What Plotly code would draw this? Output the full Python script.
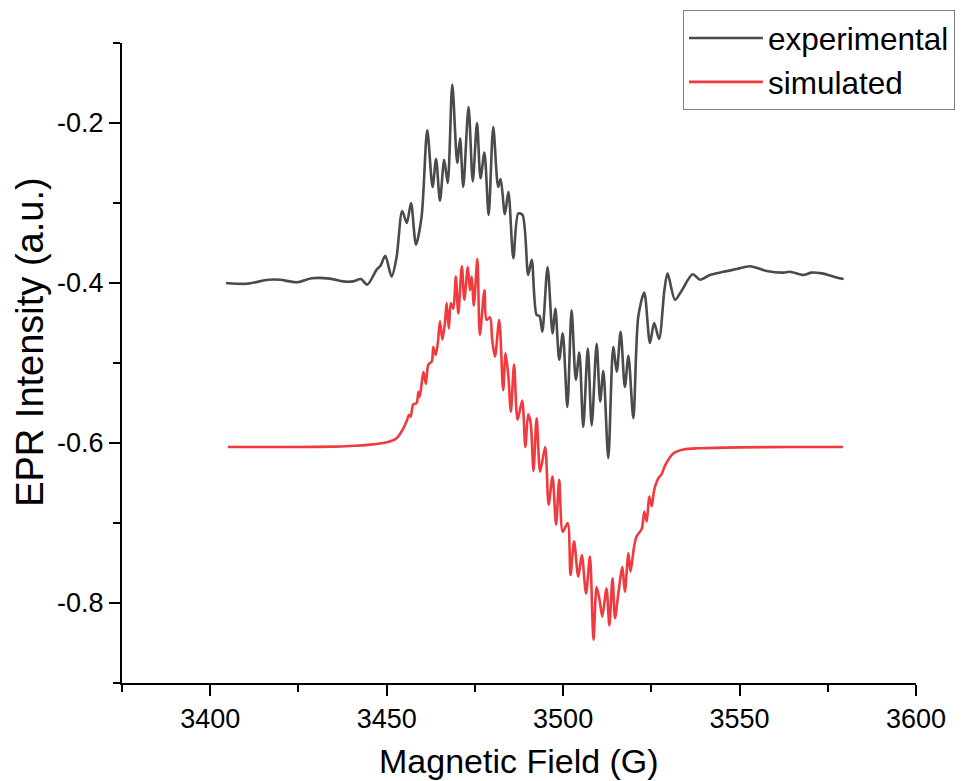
import plotly.graph_objects as go

# Experimental EPR spectrum (field in G, intensity in a.u.)
field_exp = [
    3404.5, 3410.3, 3416.5, 3419.8, 3424.5, 3428.8, 3433.9, 3437.6, 3440.5, 3442.7,
    3444.5, 3447.2, 3448.3, 3449.6, 3451.4, 3452.8, 3454.4, 3455.7, 3456.9, 3458.3,
    3459.9, 3461.5, 3463.0, 3464.0, 3465.1, 3466.3, 3467.3, 3468.6, 3470.0, 3470.8,
    3471.7, 3473.2, 3474.4, 3475.6, 3476.6, 3477.7, 3478.9, 3480.2, 3481.6, 3482.3,
    3483.5, 3484.5, 3485.9, 3487.3, 3488.5, 3490.1, 3491.1, 3492.5, 3493.3, 3494.1,
    3495.6, 3497.0, 3497.8, 3498.9, 3499.9, 3501.2, 3502.4, 3503.6, 3504.6, 3505.7,
    3507.0, 3508.1, 3509.5, 3510.5, 3511.4, 3512.8, 3514.2, 3515.2, 3516.3, 3517.5,
    3518.5, 3519.9, 3521.3, 3523.0, 3524.6, 3525.8, 3527.2, 3528.7, 3529.6, 3531.7,
    3533.4, 3536.7, 3538.8, 3541.6, 3545.4, 3549.2, 3553.0, 3557.7, 3562.4, 3564.3,
    3568.1, 3570.4, 3573.3, 3577.5, 3579.5,
]
int_exp = [
    -0.400, -0.401, -0.396, -0.396, -0.399, -0.394, -0.3945, -0.398, -0.398, -0.395,
    -0.402, -0.383, -0.378, -0.366, -0.392, -0.368, -0.310, -0.325, -0.300, -0.352,
    -0.317, -0.209, -0.280, -0.245, -0.297, -0.246, -0.275, -0.152, -0.250, -0.219,
    -0.280, -0.180, -0.273, -0.200, -0.269, -0.237, -0.315, -0.205, -0.280, -0.270,
    -0.314, -0.286, -0.369, -0.313, -0.315, -0.390, -0.371, -0.440, -0.441, -0.461,
    -0.380, -0.463, -0.432, -0.496, -0.463, -0.555, -0.434, -0.521, -0.487, -0.580,
    -0.482, -0.578, -0.476, -0.548, -0.510, -0.619, -0.480, -0.511, -0.461, -0.530,
    -0.491, -0.569, -0.442, -0.412, -0.475, -0.450, -0.470, -0.409, -0.388, -0.421,
    -0.411, -0.389, -0.396, -0.390, -0.386, -0.3825, -0.379, -0.385, -0.387, -0.386,
    -0.390, -0.387, -0.388, -0.393, -0.395,
]

# Simulated spectrum
field_sim = [
    3405.0, 3415.0, 3425.0, 3435.0, 3441.0, 3445.3, 3449.0, 3450.9, 3452.8, 3454.7,
    3455.8, 3456.3, 3456.8, 3457.5, 3458.5, 3459.0, 3459.4, 3460.4, 3461.1, 3461.8,
    3462.8, 3463.2, 3463.9, 3464.5, 3465.1, 3465.8, 3466.5, 3467.0, 3467.6, 3468.2,
    3468.9, 3469.6, 3470.3, 3471.3, 3472.0, 3473.0, 3473.6, 3474.1, 3474.7, 3475.7,
    3476.4, 3477.7, 3478.3, 3479.3, 3479.9, 3480.7, 3481.9, 3483.0, 3483.7, 3484.5,
    3485.2, 3486.1, 3487.1, 3488.4, 3489.3, 3490.1, 3490.8, 3491.6, 3492.5, 3493.5,
    3494.9, 3495.9, 3497.0, 3498.0, 3498.9, 3499.9, 3501.3, 3502.1, 3503.1, 3504.3,
    3505.3, 3506.5, 3507.6, 3508.6, 3509.5, 3510.4, 3511.1, 3512.3, 3513.1, 3514.0,
    3514.7, 3515.6, 3516.8, 3517.5, 3518.5, 3519.1, 3520.1, 3520.8, 3522.3, 3523.0,
    3523.7, 3524.4, 3525.1, 3525.8, 3527.0, 3527.9, 3528.9, 3531.2, 3534.1, 3538.8,
    3550.0, 3565.0, 3579.3,
]
int_sim = [
    -0.605, -0.605, -0.605, -0.6045, -0.6035, -0.602, -0.600, -0.598, -0.594, -0.582,
    -0.571, -0.565, -0.567, -0.552, -0.550, -0.536, -0.542, -0.511, -0.526, -0.502,
    -0.498, -0.480, -0.490, -0.475, -0.448, -0.471, -0.450, -0.425, -0.457, -0.425,
    -0.432, -0.392, -0.438, -0.379, -0.421, -0.380, -0.409, -0.392, -0.428, -0.370,
    -0.465, -0.409, -0.446, -0.443, -0.471, -0.492, -0.446, -0.534, -0.488, -0.517,
    -0.561, -0.502, -0.571, -0.547, -0.605, -0.564, -0.575, -0.635, -0.569, -0.636,
    -0.605, -0.677, -0.642, -0.702, -0.646, -0.711, -0.700, -0.765, -0.723, -0.767,
    -0.740, -0.788, -0.742, -0.846, -0.780, -0.798, -0.817, -0.782, -0.828, -0.769,
    -0.819, -0.790, -0.755, -0.786, -0.738, -0.761, -0.730, -0.717, -0.707, -0.686,
    -0.698, -0.667, -0.679, -0.659, -0.644, -0.639, -0.628, -0.613, -0.608, -0.6066,
    -0.6055, -0.605, -0.605,
]

x_ticks = [3400, 3450, 3500, 3550, 3600]
y_ticks = [-0.8, -0.6, -0.4, -0.2]

FONT = "Liberation Sans, Arial, sans-serif"

fig = go.Figure()
fig.add_trace(go.Scatter(
    x=field_exp, y=int_exp, mode="lines", name="experimental",
    line=dict(color="#4b4b4b", width=2.6, shape="spline", smoothing=0.8),
))
fig.add_trace(go.Scatter(
    x=field_sim, y=int_sim, mode="lines", name="simulated",
    line=dict(color="#f03a3e", width=2.6, shape="spline", smoothing=0.8),
))

axis_common = dict(
    showgrid=False, zeroline=False, showline=True, linecolor="black", linewidth=2,
    ticks="outside", ticklen=11, tickwidth=2, tickcolor="black",
    tickfont=dict(family=FONT, size=27, color="black"),
    minor=dict(ticks="outside", ticklen=7, tickwidth=2, tickcolor="black"),
    automargin=False,
)

fig.update_xaxes(
    range=[3375, 3600], tickvals=x_ticks, ticktext=[str(v) for v in x_ticks],
    **axis_common,
)
fig.update_xaxes(minor_tickvals=[3375, 3425, 3475, 3525, 3575])
fig.update_yaxes(
    range=[-0.9, -0.1], tickvals=y_ticks, ticktext=[f"{v:.1f}" for v in y_ticks],
    **axis_common,
)
fig.update_yaxes(minor_tickvals=[-0.9, -0.7, -0.5, -0.3, -0.1])

# Axis titles as free annotations so they can sit where wanted
fig.add_annotation(
    text="Magnetic Field (G)", showarrow=False,
    xref="paper", yref="paper", x=0.5, y=-0.1219, xanchor="center", yanchor="middle",
    font=dict(family=FONT, size=34, color="black"),
)
fig.add_annotation(
    text="EPR Intensity (a.u.)", textangle=-90, showarrow=False,
    xref="paper", yref="paper", x=-0.1159, y=0.533, xanchor="center", yanchor="middle",
    font=dict(family=FONT, size=38, color="black"),
)

fig.update_layout(
    width=964, height=781,
    margin=dict(l=122, r=48, t=43, b=98, autoexpand=False),
    paper_bgcolor="white", plot_bgcolor="white",
    legend=dict(
        x=0.7065, y=1.0516, xanchor="left", yanchor="top",
        bgcolor="white", bordercolor="#7f7f7f", borderwidth=1,
        font=dict(family=FONT, size=31.5, color="black"),
        itemwidth=74, tracegroupgap=0,
    ),
)

fig.write_html("out.html")
